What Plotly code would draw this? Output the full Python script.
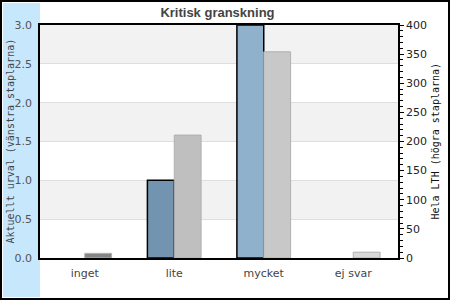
import plotly.graph_objects as go

categories = ["inget", "lite", "mycket", "ej svar"]
aktuellt = [0, 1, 3, 0]
hela_lth = [8, 211, 354, 10]
left_colors = ["#7294b0", "#7294b0", "#8fb1cb", "#8fb1cb"]
right_colors = ["#858585", "#bfbfbf", "#c8c8c8", "#d8d8d8"]
left_ticks = [0.0, 0.5, 1.0, 1.5, 2.0, 2.5, 3.0]

W, H = 450, 300
ML, MR, MT, MB = 40, 52, 25, 42
PW, PH = W - ML - MR, H - MT - MB


def px(x):
    return (x - ML) / PW


def py(y):
    return (H - MB - y) / PH


fig = go.Figure()
fig.add_trace(go.Bar(
    x=categories, y=aktuellt, name="Aktuellt urval",
    marker=dict(color=left_colors,
                line=dict(color="black", width=[1.5 if v > 0 else 0 for v in aktuellt])),
    offsetgroup="1", yaxis="y",
))
fig.add_trace(go.Bar(
    x=categories, y=hela_lth, name="Hela LTH",
    marker=dict(color=right_colors, line=dict(color="#b0b0b0", width=1)),
    offsetgroup="2", yaxis="y2",
))

shapes = [
    dict(type="rect", xref="paper", yref="paper", x0=px(3), x1=px(40), y0=py(297), y1=py(3),
         fillcolor="#c7e7fd", line=dict(width=0), layer="below"),
    dict(type="rect", xref="paper", yref="paper", x0=px(1), x1=px(449), y0=py(299), y1=py(1),
         fillcolor="rgba(0,0,0,0)", line=dict(color="black", width=2), layer="above"),
]
for i in range(1, len(left_ticks) - 1, 2):
    shapes.append(dict(type="rect", xref="paper", yref="y", x0=0, x1=1,
                       y0=left_ticks[i], y1=left_ticks[i + 1],
                       fillcolor="#f2f2f2", line=dict(width=0), layer="below"))

mono = "DejaVu Sans Mono"
sans = "DejaVu Sans"

fig.update_layout(
    width=W, height=H,
    margin=dict(l=ML, r=MR, t=MT, b=MB),
    paper_bgcolor="white", plot_bgcolor="rgba(0,0,0,0)",
    barmode="group", bargap=0.4, bargroupgap=0,
    showlegend=False,
    shapes=shapes,
    title=dict(text="<b>Kritisk granskning</b>", x=px(213), xanchor="center",
               y=1 - 12 / H, yanchor="middle",
               font=dict(family="Liberation Sans, Arial", size=13, color="#444444")),
    xaxis=dict(showline=True, linecolor="black", linewidth=1.5, mirror=True,
               ticks="", tickfont=dict(family=sans, size=11, color="#444444"),
               ticklabelstandoff=4),
    yaxis=dict(range=[0, 3], tickvals=left_ticks, tickformat=".1f",
               showline=True, linecolor="black", linewidth=1.5,
               showgrid=True, gridcolor="#dedede", gridwidth=1,
               ticks="", tickfont=dict(family=sans, size=11, color="#555555"),
               ticklabelstandoff=4, zeroline=False),
    yaxis2=dict(range=[0, 400], dtick=50, overlaying="y", side="right",
                showline=True, linecolor="black", linewidth=1.5,
                showgrid=False, zeroline=False,
                ticks="outside", ticklen=4, tickcolor="black",
                minor=dict(dtick=10, ticks="outside", ticklen=3, tickcolor="black"),
                tickfont=dict(family=sans, size=11, color="#222222")),
    annotations=[
        dict(text="Aktuellt urval (vänstra staplarna)", xref="paper", yref="paper",
             x=px(10), y=0.5, xanchor="center", yanchor="middle", textangle=-90,
             showarrow=False, font=dict(family=mono, size=10, color="#444444")),
        dict(text="Hela LTH (högra staplarna)", xref="paper", yref="paper",
             x=px(435), y=0.5, xanchor="center", yanchor="middle", textangle=-90,
             showarrow=False, font=dict(family=mono, size=10, color="#111111")),
    ],
)

fig.write_html("out.html")
